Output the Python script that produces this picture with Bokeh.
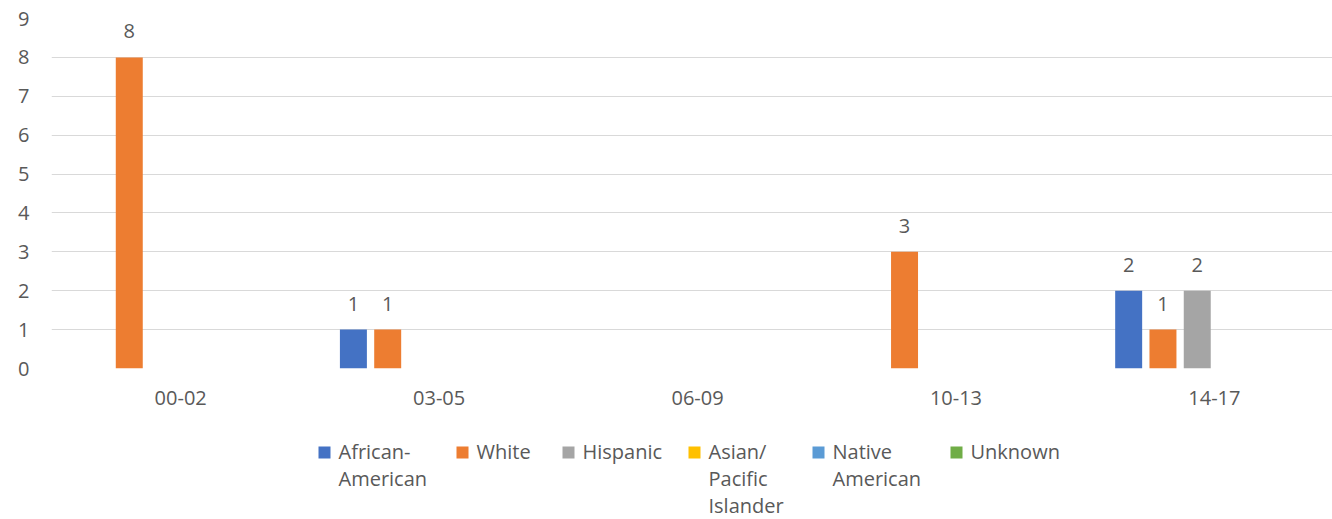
from bokeh.plotting import figure
from bokeh.models import Range1d, FixedTicker, ColumnDataSource
from bokeh.layouts import column
from bokeh.embed import file_html
from bokeh.resources import INLINE
from bokeh.core.properties import value

# ---- data ----
categories = ["00-02", "03-05", "06-09", "10-13", "14-17"]
series_names = ["African-American", "White", "Hispanic",
                "Asian/Pacific Islander", "Native American", "Unknown"]
legend_lines = [["African-", "American"], ["White"], ["Hispanic"],
                ["Asian/", "Pacific", "Islander"], ["Native", "American"], ["Unknown"]]
african_american = [0, 1, 0, 0, 2]
white = [8, 1, 0, 3, 1]
hispanic = [0, 0, 0, 0, 2]
asian_pacific = [0, 0, 0, 0, 0]
native_american = [0, 0, 0, 0, 0]
unknown = [0, 0, 0, 0, 0]
series_values = [african_american, white, hispanic, asian_pacific, native_american, unknown]
colors = ["#4472C4", "#ED7D31", "#A5A5A5", "#FFC000", "#5B9BD5", "#70AD47"]
y_ticks = list(range(0, 10))

# ---- style ----
FONT = "Open Sans"
FSIZE = "20px"
TXT = "#595959"
GRID = "#D9D9D9"
W = 1332
LEFT = 51
PITCH = 0.1327
BAR_W = 0.1044
MAIN_H = 428

p = figure(width=W, height=MAIN_H, x_range=Range1d(0, 4.957), y_range=Range1d(0, 9),
           output_backend="svg", toolbar_location=None,
           min_border_left=LEFT, min_border_right=0, min_border_top=18, min_border_bottom=60)
p.outline_line_color = None
p.background_fill_color = "white"
p.border_fill_color = "white"

n = len(series_values)
for j, (vals, col) in enumerate(zip(series_values, colors)):
    xs = [i + 0.5 + (j - (n - 1) / 2) * PITCH for i in range(len(categories))]
    src = ColumnDataSource(dict(x=xs, top=vals))
    p.vbar(x="x", top="top", width=BAR_W, source=src, fill_color=col, line_color=None)
    lx = [x for x, v in zip(xs, vals) if v != 0]
    lv = [v for v in vals if v != 0]
    if lx:
        p.text(x=lx, y=lv, text=[str(v) for v in lv], text_align="center",
               text_baseline="middle", y_offset=-26, text_font=value(FONT),
               text_font_size=FSIZE, text_color=TXT)

p.xaxis.ticker = FixedTicker(ticks=[i + 0.5 for i in range(len(categories))])
p.xaxis.major_label_overrides = {i + 0.5: c for i, c in enumerate(categories)}
p.yaxis.ticker = FixedTicker(ticks=y_ticks)
for ax in (p.xaxis, p.yaxis):
    ax.axis_line_color = None
    ax.major_tick_line_color = None
    ax.minor_tick_line_color = None
    ax.major_label_text_font = FONT
    ax.major_label_text_font_size = FSIZE
    ax.major_label_text_color = TXT
p.xaxis.major_label_standoff = 16
p.yaxis.major_label_standoff = 16
p.xgrid.visible = False
p.ygrid.ticker = FixedTicker(ticks=y_ticks)
p.ygrid.grid_line_color = GRID
p.ygrid.grid_line_width = 1

# ---- legend (page-pixel coordinates; frame spans LEFT..W) ----
LEG_H = 519 - MAIN_H
lf = figure(width=W, height=LEG_H, x_range=Range1d(LEFT, W), y_range=Range1d(519, MAIN_H),
            output_backend="svg", toolbar_location=None,
            x_axis_location=None, y_axis_location=None,
            min_border_left=LEFT, min_border_right=0,
            min_border_top=0, min_border_bottom=0)
lf.grid.visible = False
lf.outline_line_color = None
sq_x = [318, 456, 562, 688, 812, 950]
row_y = 451
line_h = 27
lf.rect(x=[x + 6 for x in sq_x], y=[row_y + 1] * n, width=12, height=12,
        fill_color=colors, line_color=None)
tx, ty, tt = [], [], []
for x, lines in zip(sq_x, legend_lines):
    for k, s in enumerate(lines):
        tx.append(x + 20)
        ty.append(row_y + k * line_h)
        tt.append(s)
lf.text(x=tx, y=ty, text=tt, text_align="left", text_baseline="middle",
        text_font=value(FONT), text_font_size=FSIZE, text_color=TXT)

layout = column(p, lf)
open("out.html", "w").write(file_html(layout, INLINE))
